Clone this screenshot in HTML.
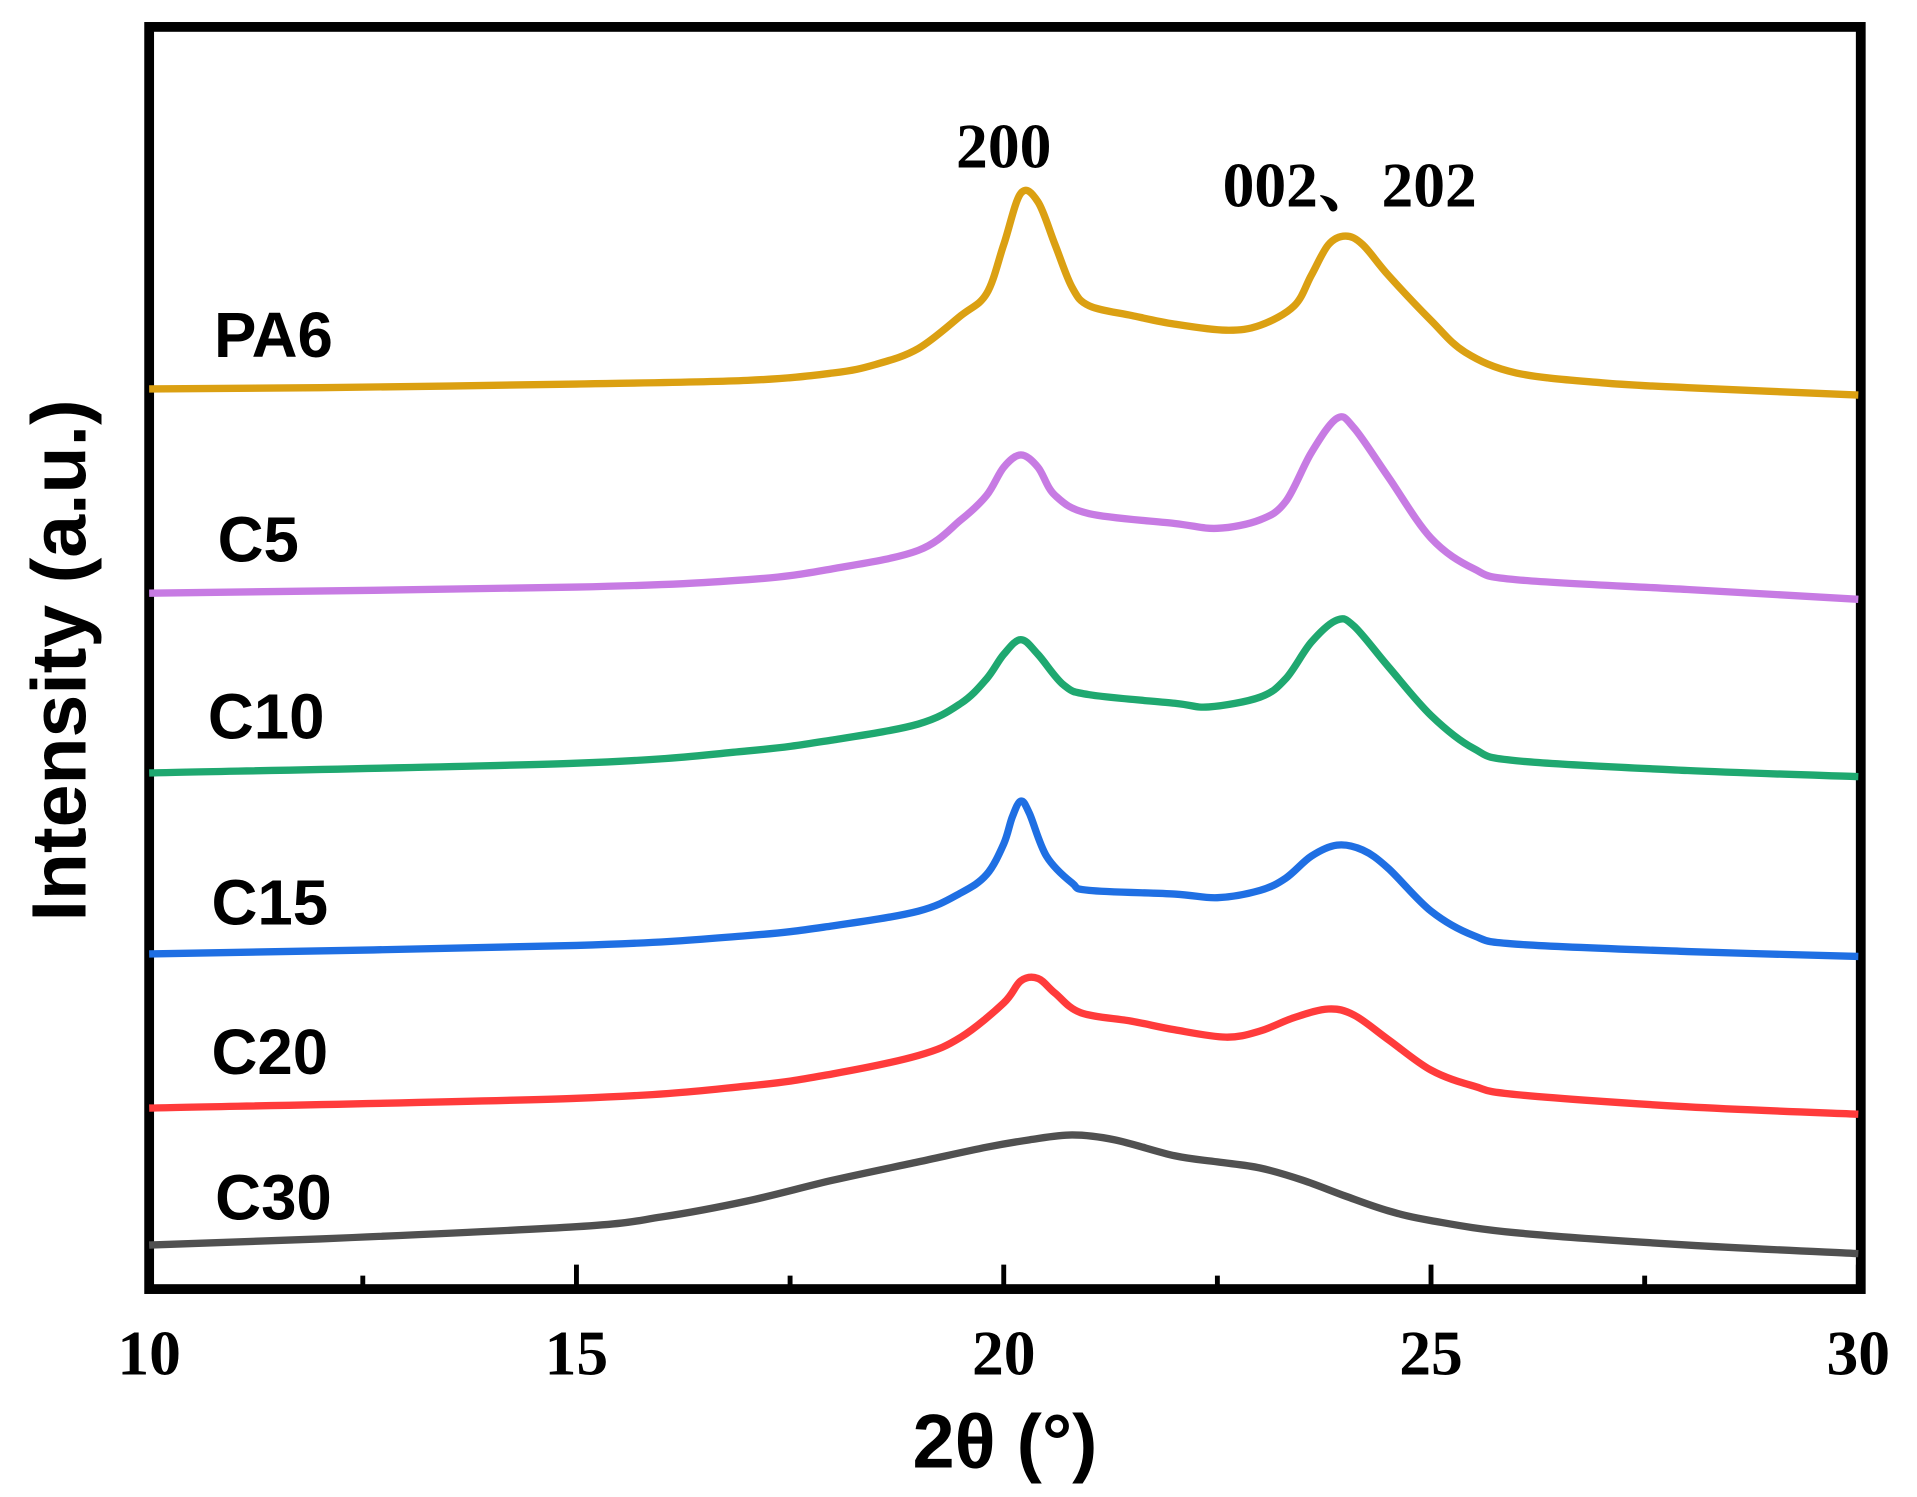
<!DOCTYPE html>
<html><head><meta charset="utf-8"><style>
html,body{margin:0;padding:0;background:#fff;}
svg{display:block;}
.tick{font-family:"Liberation Serif",serif;font-weight:bold;font-size:52px;}
.pk{font-family:"Liberation Serif","Noto Serif CJK SC",serif;font-weight:bold;font-size:52px;}
.lab{font-family:"Liberation Sans",sans-serif;font-weight:bold;font-size:52px;}
</style></head><body>
<svg id="chart" width="1917" height="1497" viewBox="0 0 1568 1224" preserveAspectRatio="none" xmlns="http://www.w3.org/2000/svg">
<rect x="122" y="22" width="1400" height="1032" fill="none" stroke="#000" stroke-width="8"/>
<g id="ticks"></g>
<g id="series"></g>
<text x="822" y="1200" text-anchor="middle" font-family="Liberation Sans, sans-serif" font-weight="bold" font-size="62">2θ (°)</text>
<text transform="translate(70,540) rotate(-90)" text-anchor="middle" font-family="Liberation Sans, sans-serif" font-weight="bold" font-size="63">Intensity (a.u.)</text>
<text class="pk" x="821" y="137" text-anchor="middle">200</text>
<text class="pk" x="1000" y="169">002、202</text>
</svg>
<script>
const xTicks=[10,15,20,25,30];
const xMinor=[12.5,17.5,22.5,27.5];
const seriesNames=["PA6","C5","C10","C15","C20","C30"];
const seriesColors=["#DBA012","#C77BE3","#1FA870","#1F6FE3","#FF3B3B","#505050"];
const labelPos=[[175,292],[178,459],[170,604],[173,756],[173,878],[176,997]];
const xPA6=[10,12,15,17,18,18.5,19,19.5,19.8,20,20.2,20.4,20.6,20.8,21,21.5,22,22.6,23,23.4,23.6,23.8,24,24.2,24.5,25,25.4,26,27,28,30];
const yPA6=[737,738,741,744,750,757,770,797,815,855,897,890,855,820,805,797,790,785,789,805,830,855,862,855,830,793,767,750,742,738,732];
const xC5=[10,15,17,18,19,19.5,19.8,20,20.2,20.4,20.6,21,22,22.5,23,23.3,23.6,23.9,24.1,24.5,25,25.5,26,28,30];
const yC5=[570,575,581,590,605,630,650,673,683,673,650,635,627,623,630,645,685,713,705,665,615,590,581,573,565];
const xC10=[10,15,17,18,19,19.5,19.8,20,20.2,20.4,20.7,21,22,22.4,23,23.3,23.6,23.9,24.1,24.5,25,25.5,26,28,30];
const yC10=[423,431,441,450,463,480,500,520,532,520,495,487,480,477,485,500,530,548,543,510,470,443,433,425,420];
const xC15=[10,15,17,18,19,19.5,19.8,20,20.1,20.2,20.3,20.5,20.8,21,22,22.5,23,23.3,23.6,23.9,24.2,24.5,25,25.5,26,28,30];
const yC15=[275,282,290,298,310,325,340,365,387,400,390,355,333,327,324,321,327,337,355,364,360,345,310,290,283,277,273];
const xC20=[10,15,17,18,19,19.5,20,20.2,20.4,20.6,20.9,21.5,22,22.6,23,23.4,23.8,24.1,24.5,25,25.5,26,28,30];
const yC20=[149,157,167,177,192,207,235,253,255,243,227,220,213,207,212,223,230,225,205,180,167,160,150,144];
const xC30=[10,12,15,16,17,18,19,19.8,20.3,20.8,21.3,22,22.5,23,23.5,24,24.5,25,26,28,30];
const yC30=[37,42,52,60,73,90,105,117,123,127,123,110,105,100,90,77,65,57,47,37,30];
const allX=[xPA6,xC5,xC10,xC15,xC20,xC30];
const allY=[yPA6,yC5,yC10,yC15,yC20,yC30];

const NS="http://www.w3.org/2000/svg";
const X=v=>122+(v-10)*(1398/20);
const Y=v=>1055-v;
const tg=document.getElementById('ticks');
xTicks.forEach(t=>{
  const l=document.createElementNS(NS,'line');
  
  
  l.setAttribute('x1',X(t));l.setAttribute('x2',X(t));l.setAttribute('y1',1054);l.setAttribute('y2',1034);
  l.setAttribute('stroke','#000');l.setAttribute('stroke-width',4);tg.appendChild(l);
  const tx=document.createElementNS(NS,'text');
  
  
  tx.setAttribute('x',X(t));tx.setAttribute('y',1124);tx.setAttribute('text-anchor','middle');
  tx.setAttribute('class','tick');tx.textContent=t;tg.appendChild(tx);
});
xMinor.forEach(t=>{
  const l=document.createElementNS(NS,'line');
  
  
  l.setAttribute('x1',X(t));l.setAttribute('x2',X(t));l.setAttribute('y1',1054);l.setAttribute('y2',1043);
  l.setAttribute('stroke','#000');l.setAttribute('stroke-width',4);tg.appendChild(l);
});
function pathFor(xs,ys){
  const p=xs.map((x,i)=>[X(x),Y(ys[i])]);
  let d=`M${p[0][0]},${p[0][1]}`;
  for(let i=0;i<p.length-1;i++){
    const p0=p[Math.max(i-1,0)],p1=p[i],p2=p[i+1],p3=p[Math.min(i+2,p.length-1)];
    const c1=[p1[0]+(p2[0]-p0[0])/6,p1[1]+(p2[1]-p0[1])/6];
    const c2=[p2[0]-(p3[0]-p1[0])/6,p2[1]-(p3[1]-p1[1])/6];
    d+=` C${c1[0]},${c1[1]} ${c2[0]},${c2[1]} ${p2[0]},${p2[1]}`;
  }
  return d;
}
const sg=document.getElementById('series');
seriesNames.forEach((n,i)=>{
  const pa=document.createElementNS(NS,'path');
  
  
  pa.setAttribute('d',pathFor(allX[i],allY[i]));
  pa.setAttribute('fill','none');pa.setAttribute('stroke',seriesColors[i]);
  pa.setAttribute('stroke-width',6);pa.setAttribute('stroke-linejoin','round');
  sg.appendChild(pa);
  const t=document.createElementNS(NS,'text');
  
  
  t.setAttribute('x',labelPos[i][0]);t.setAttribute('y',labelPos[i][1]);
  t.setAttribute('class','lab');t.textContent=n;sg.appendChild(t);
});
</script>
</body></html>
